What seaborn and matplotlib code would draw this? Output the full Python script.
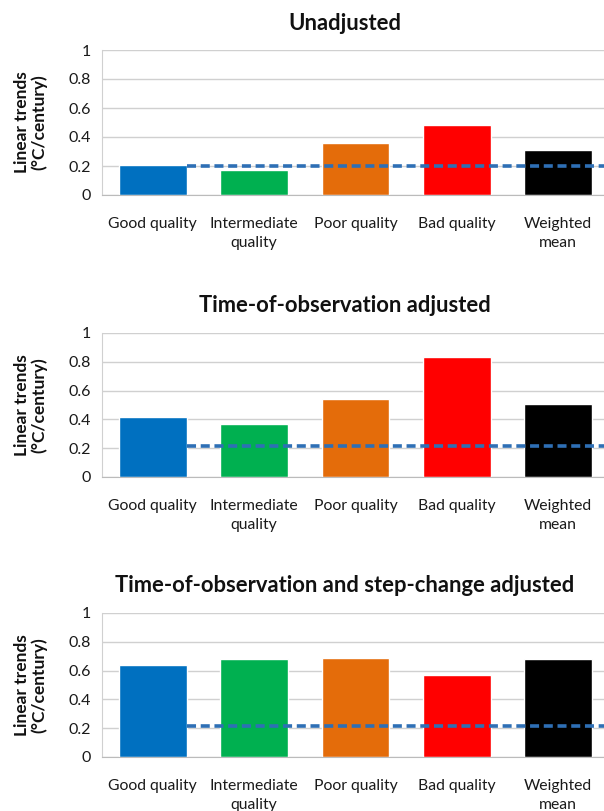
import matplotlib
matplotlib.use("Agg")
import matplotlib.pyplot as plt
import seaborn as sns
import numpy as np

categories = ["Good quality", "Intermediate\nquality", "Poor quality", "Bad quality", "Weighted\nmean"]
colors = ["#0070C0", "#00B050", "#E46C0A", "#FF0000", "#000000"]

titles = ["Unadjusted", "Time-of-observation adjusted", "Time-of-observation and step-change adjusted"]
unadjusted = [0.21, 0.17, 0.36, 0.48, 0.31]
tob_adjusted = [0.42, 0.37, 0.54, 0.835, 0.51]
tob_step_adjusted = [0.64, 0.68, 0.69, 0.57, 0.68]
reference_levels = [0.2, 0.215, 0.215]

panels = [unadjusted, tob_adjusted, tob_step_adjusted]

sns.set_style("white")
plt.rcParams["font.family"] = ["Lato", "DejaVu Sans"]

fig = plt.figure(figsize=(6.04, 8.11), dpi=100)

# axes extend a bit past the right edge, like the cropped original
axes_boxes = [
    [102 / 604, (811 - 195) / 811, 507 / 604, 145 / 811],
    [102 / 604, (811 - 477) / 811, 507 / 604, 144 / 811],
    [102 / 604, (811 - 757) / 811, 507 / 604, 144 / 811],
]
title_y = [23, 305, 586]

for box, values, title, ref, ty in zip(axes_boxes, panels, titles, reference_levels, title_y):
    ax = fig.add_axes(box)
    sns.barplot(x=categories, y=values, hue=categories, palette=colors,
                legend=False, width=0.67, saturation=1, ax=ax)
    ax.hlines(ref, 0.335, 4.5, colors="#2E6FB5", linestyles=(0, (2.5, 1.3)), lw=2.6, zorder=4)

    ax.set_xlim(-0.5, 4.5)
    ax.set_ylim(0, 1)
    ax.set_yticks(np.arange(0, 1.01, 0.2))
    ax.set_yticklabels(["0", "0.2", "0.4", "0.6", "0.8", "1"], fontsize=11.5, color="#1a1a1a")
    ax.yaxis.grid(True, color="#D0D0D0", lw=1)
    ax.set_axisbelow(True)
    ax.tick_params(axis="y", length=5, color="#D0D0D0", pad=3)

    ax.set_xticks(range(len(categories)))
    ax.set_xticklabels(categories, fontsize=11.3, color="#1a1a1a", linespacing=1.45)
    ax.tick_params(axis="x", length=0, pad=16)
    ax.set_xticks(np.arange(-0.5, 4.6, 1), minor=True)
    ax.tick_params(axis="x", which="minor", length=5, color="#BBBBBB")

    for side in ["top", "right"]:
        ax.spines[side].set_visible(False)
    ax.spines["left"].set_color("#D0D0D0")
    ax.spines["bottom"].set_color("#BBBBBB")

    ax.set_xlabel("")
    ax.set_ylabel("Linear trends\n(°C/century)", fontsize=12.5, fontweight="bold",
                  linespacing=1.05, labelpad=15, color="#111111")

    fig.text(345 / 604, 1 - ty / 811, title, ha="center", va="center",
             fontsize=15.8, fontweight="bold", color="#111111")

fig.savefig("out.png", dpi=100)
